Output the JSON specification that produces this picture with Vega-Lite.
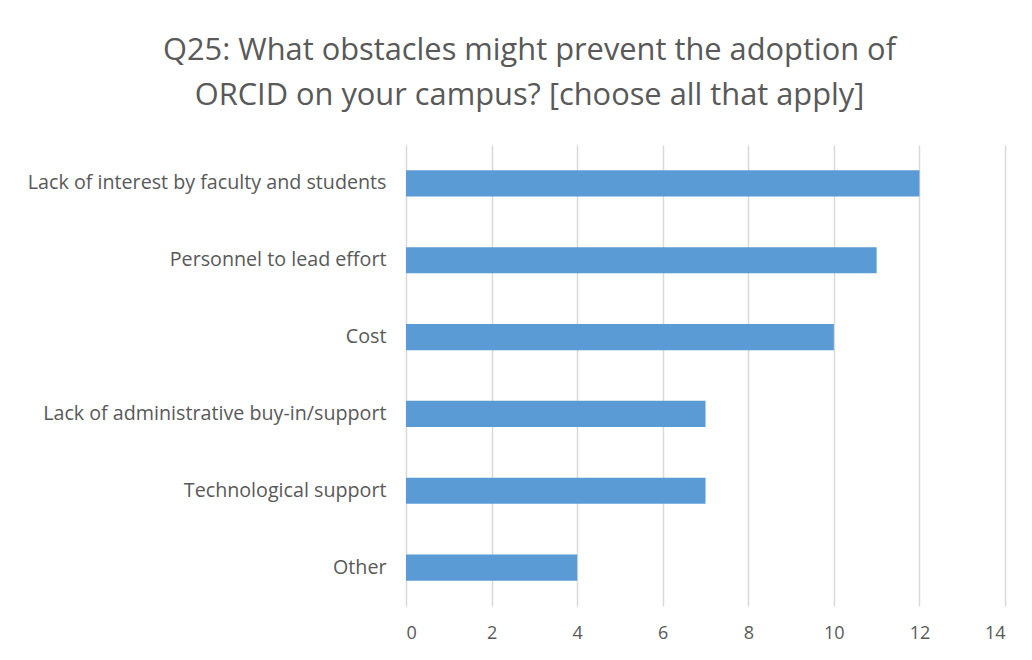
{
  "$schema": "https://vega.github.io/schema/vega-lite/v6.json",
  "autosize": {"type": "none"},
  "width": 599,
  "height": 461,
  "padding": {"left": 406, "top": 145, "right": 27, "bottom": 54},
  "background": "white",
  "title": {
    "text": ["Q25: What obstacles might prevent the adoption of", "ORCID on your campus? [choose all that apply]"],
    "font": "Open Sans",
    "fontSize": 30.8,
    "fontWeight": "normal",
    "color": "#595959",
    "anchor": "middle",
    "frame": "group",
    "dx": -176,
    "offset": 33,
    "lineHeight": 45
  },
  "data": {
    "values": [
      {"obstacle": "Lack of interest by faculty and students", "count": 12},
      {"obstacle": "Personnel to lead effort", "count": 11},
      {"obstacle": "Cost", "count": 10},
      {"obstacle": "Lack of administrative buy-in/support", "count": 7},
      {"obstacle": "Technological support", "count": 7},
      {"obstacle": "Other", "count": 4}
    ]
  },
  "mark": {"type": "bar", "color": "#5b9bd5"},
  "encoding": {
    "y": {
      "field": "obstacle",
      "type": "nominal",
      "sort": null,
      "scale": {"paddingInner": 0.66, "paddingOuter": 0.33},
      "axis": {
        "title": null,
        "domain": false,
        "ticks": false,
        "labelPadding": 20,
        "labelFont": "Open Sans",
        "labelFontSize": 19.7,
        "labelColor": "#595959",
        "labelLimit": 500
      }
    },
    "x": {
      "field": "count",
      "type": "quantitative",
      "scale": {"domain": [0, 14]},
      "axis": {
        "title": null,
        "values": [0, 2, 4, 6, 8, 10, 12, 14],
        "domain": false,
        "ticks": false,
        "grid": true,
        "gridColor": "#d9d9d9",
        "gridWidth": 1.5,
        "labelPadding": 18,
        "labelFont": "Open Sans",
        "labelFontSize": 18,
        "labelColor": "#595959"
      }
    }
  },
  "config": {"view": {"stroke": null}}
}
